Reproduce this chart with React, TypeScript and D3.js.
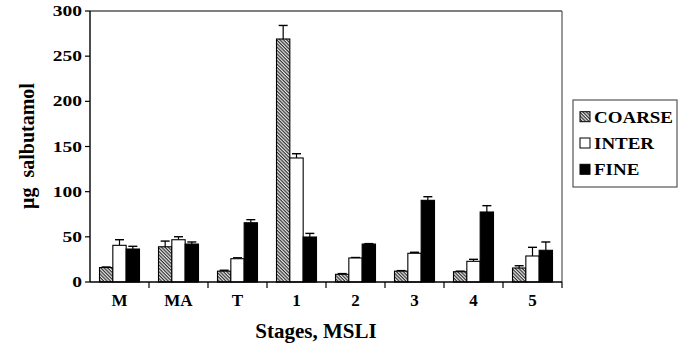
import React from "react";
import * as d3 from "d3";

const categories = ["M", "MA", "T", "1", "2", "3", "4", "5"];
const seriesNames = ["COARSE", "INTER", "FINE"];
const coarse = [16, 39, 12, 269, 8.5, 12, 11.4, 15.5];
const coarseErr = [0.6, 6.3, 1, 15, 0.8, 0.6, 0.6, 2.5];
const inter = [40.6, 46.8, 25.8, 137.3, 26.6, 31.8, 22.9, 28.8];
const interErr = [6.2, 3.3, 1, 4.7, 0.5, 1.1, 2.2, 9.6];
const fine = [36.5, 42, 65.6, 49.8, 42, 90.4, 77.5, 35.1];
const fineErr = [3, 2.3, 3.4, 4, 0.5, 4, 7, 9.2];
const yTicks = [0, 50, 100, 150, 200, 250, 300];

const W = 681;
const H = 346;
const m = { left: 90, right: 119, top: 11, bottom: 64 };
const FONT = "'Liberation Serif', 'Times New Roman', serif";

export default function App() {
  const x0 = d3
    .scaleBand<string>()
    .domain(categories)
    .range([m.left, W - m.right])
    .paddingInner(0)
    .paddingOuter(0);
  const x1 = d3
    .scaleBand<string>()
    .domain(seriesNames)
    .range([0, x0.bandwidth()])
    .paddingInner(0)
    .paddingOuter(0.7125);
  const y = d3
    .scaleLinear()
    .domain([0, 300])
    .range([H - m.bottom, m.top]);

  const values = [coarse, inter, fine];
  const errs = [coarseErr, interErr, fineErr];
  const fills = ["url(#hatch)", "#ffffff", "#000000"];

  const plotL = m.left;
  const plotR = W - m.right;
  const plotT = m.top;
  const plotB = H - m.bottom;

  return (
    <svg
      width={W}
      height={H}
      style={{ position: "absolute", left: 0, top: 0, background: "#fff" }}
    >
      <defs>
        <pattern
          id="hatch"
          patternUnits="userSpaceOnUse"
          width={2.4}
          height={2.4}
          patternTransform="rotate(45)"
        >
          <rect width={2.4} height={2.4} fill="#e8e8e8" />
          <line x1={0} y1={0.6} x2={2.4} y2={0.6} stroke="#333" strokeWidth={1.2} />
        </pattern>
      </defs>
      <rect width={W} height={H} fill="#fff" />

      {/* frame */}
      <line x1={plotL} x2={plotR} y1={plotT} y2={plotT} stroke="#000" strokeWidth={1.2} />
      <line x1={plotR} x2={plotR} y1={plotT} y2={plotB} stroke="#555" strokeWidth={1.2} />

      {/* bars */}
      {categories.map((c, i) => (
        <g key={c}>
          {seriesNames.map((s, j) => {
            const bx = (x0(c) as number) + (x1(s) as number);
            const bw = x1.bandwidth();
            const v = values[j][i];
            const top = y(v);
            const cap = y(v + errs[j][i]);
            const cx = bx + bw / 2;
            return (
              <g key={s}>
                <line x1={cx} x2={cx} y1={top} y2={cap} stroke="#000" strokeWidth={1.2} />
                <line x1={cx - 4.5} x2={cx + 4.5} y1={cap} y2={cap} stroke="#000" strokeWidth={1.4} />
                <rect
                  x={bx}
                  y={top}
                  width={bw}
                  height={plotB - top}
                  fill={fills[j]}
                  stroke="#000"
                  strokeWidth={1.1}
                />
              </g>
            );
          })}
        </g>
      ))}

      {/* y axis */}
      <line x1={plotL} x2={plotL} y1={plotT} y2={plotB} stroke="#000" strokeWidth={1.4} />
      {yTicks.map((t) => (
        <g key={t}>
          <line x1={plotL - 5} x2={plotL} y1={y(t)} y2={y(t)} stroke="#000" strokeWidth={1.2} />
          <g transform={`translate(${plotL - 8},${y(t) + 5}) scale(1.3,1)`}>
            <text
              textAnchor="end"
              fontFamily={FONT}
              fontWeight="bold"
              fontSize={15}
              fill="#000"
            >
              {t}
            </text>
          </g>
        </g>
      ))}

      {/* x axis */}
      <line x1={plotL} x2={plotR} y1={plotB} y2={plotB} stroke="#000" strokeWidth={1.4} />
      {categories.map((c, i) => (
        <g key={c}>
          {i > 0 && (
            <line
              x1={x0(c) as number}
              x2={x0(c) as number}
              y1={plotB}
              y2={plotB + 6}
              stroke="#000"
              strokeWidth={1.2}
            />
          )}
          <text
            x={(x0(c) as number) + x0.bandwidth() / 2}
            y={plotB + 24}
            textAnchor="middle"
            fontFamily={FONT}
            fontWeight="bold"
            fontSize={17}
            fill="#000"
          >
            {c}
          </text>
        </g>
      ))}
      <line x1={plotR} x2={plotR} y1={plotB} y2={plotB + 6} stroke="#000" strokeWidth={1.2} />

      {/* axis titles */}
      <text
        x={(plotL + plotR) / 2 - 10}
        y={338}
        textAnchor="middle"
        fontFamily={FONT}
        fontWeight="bold"
        fontSize={21}
        fill="#000"
      >
        Stages, MSLI
      </text>
      <text
        transform={`translate(34,146) rotate(-90)`}
        textAnchor="middle"
        fontFamily={FONT}
        fontWeight="bold"
        fontSize={20}
        fill="#000"
        style={{ whiteSpace: "pre" }}
      >
        {"μg  salbutamol"}
      </text>

      {/* legend */}
      <rect x={573} y={100} width={104} height={87} fill="#fff" stroke="#555" strokeWidth={1.2} />
      {seriesNames.map((s, j) => {
        const cy = 116.7 + j * 26.3;
        return (
          <g key={s}>
            <rect
              x={580}
              y={cy - 5}
              width={10}
              height={10}
              fill={fills[j]}
              stroke="#000"
              strokeWidth={1}
            />
            <g transform={`translate(594,${cy + 6}) scale(1.15,1)`}>
              <text fontFamily={FONT} fontWeight="bold" fontSize={16.5} fill="#000">
                {s}
              </text>
            </g>
          </g>
        );
      })}
    </svg>
  );
}
